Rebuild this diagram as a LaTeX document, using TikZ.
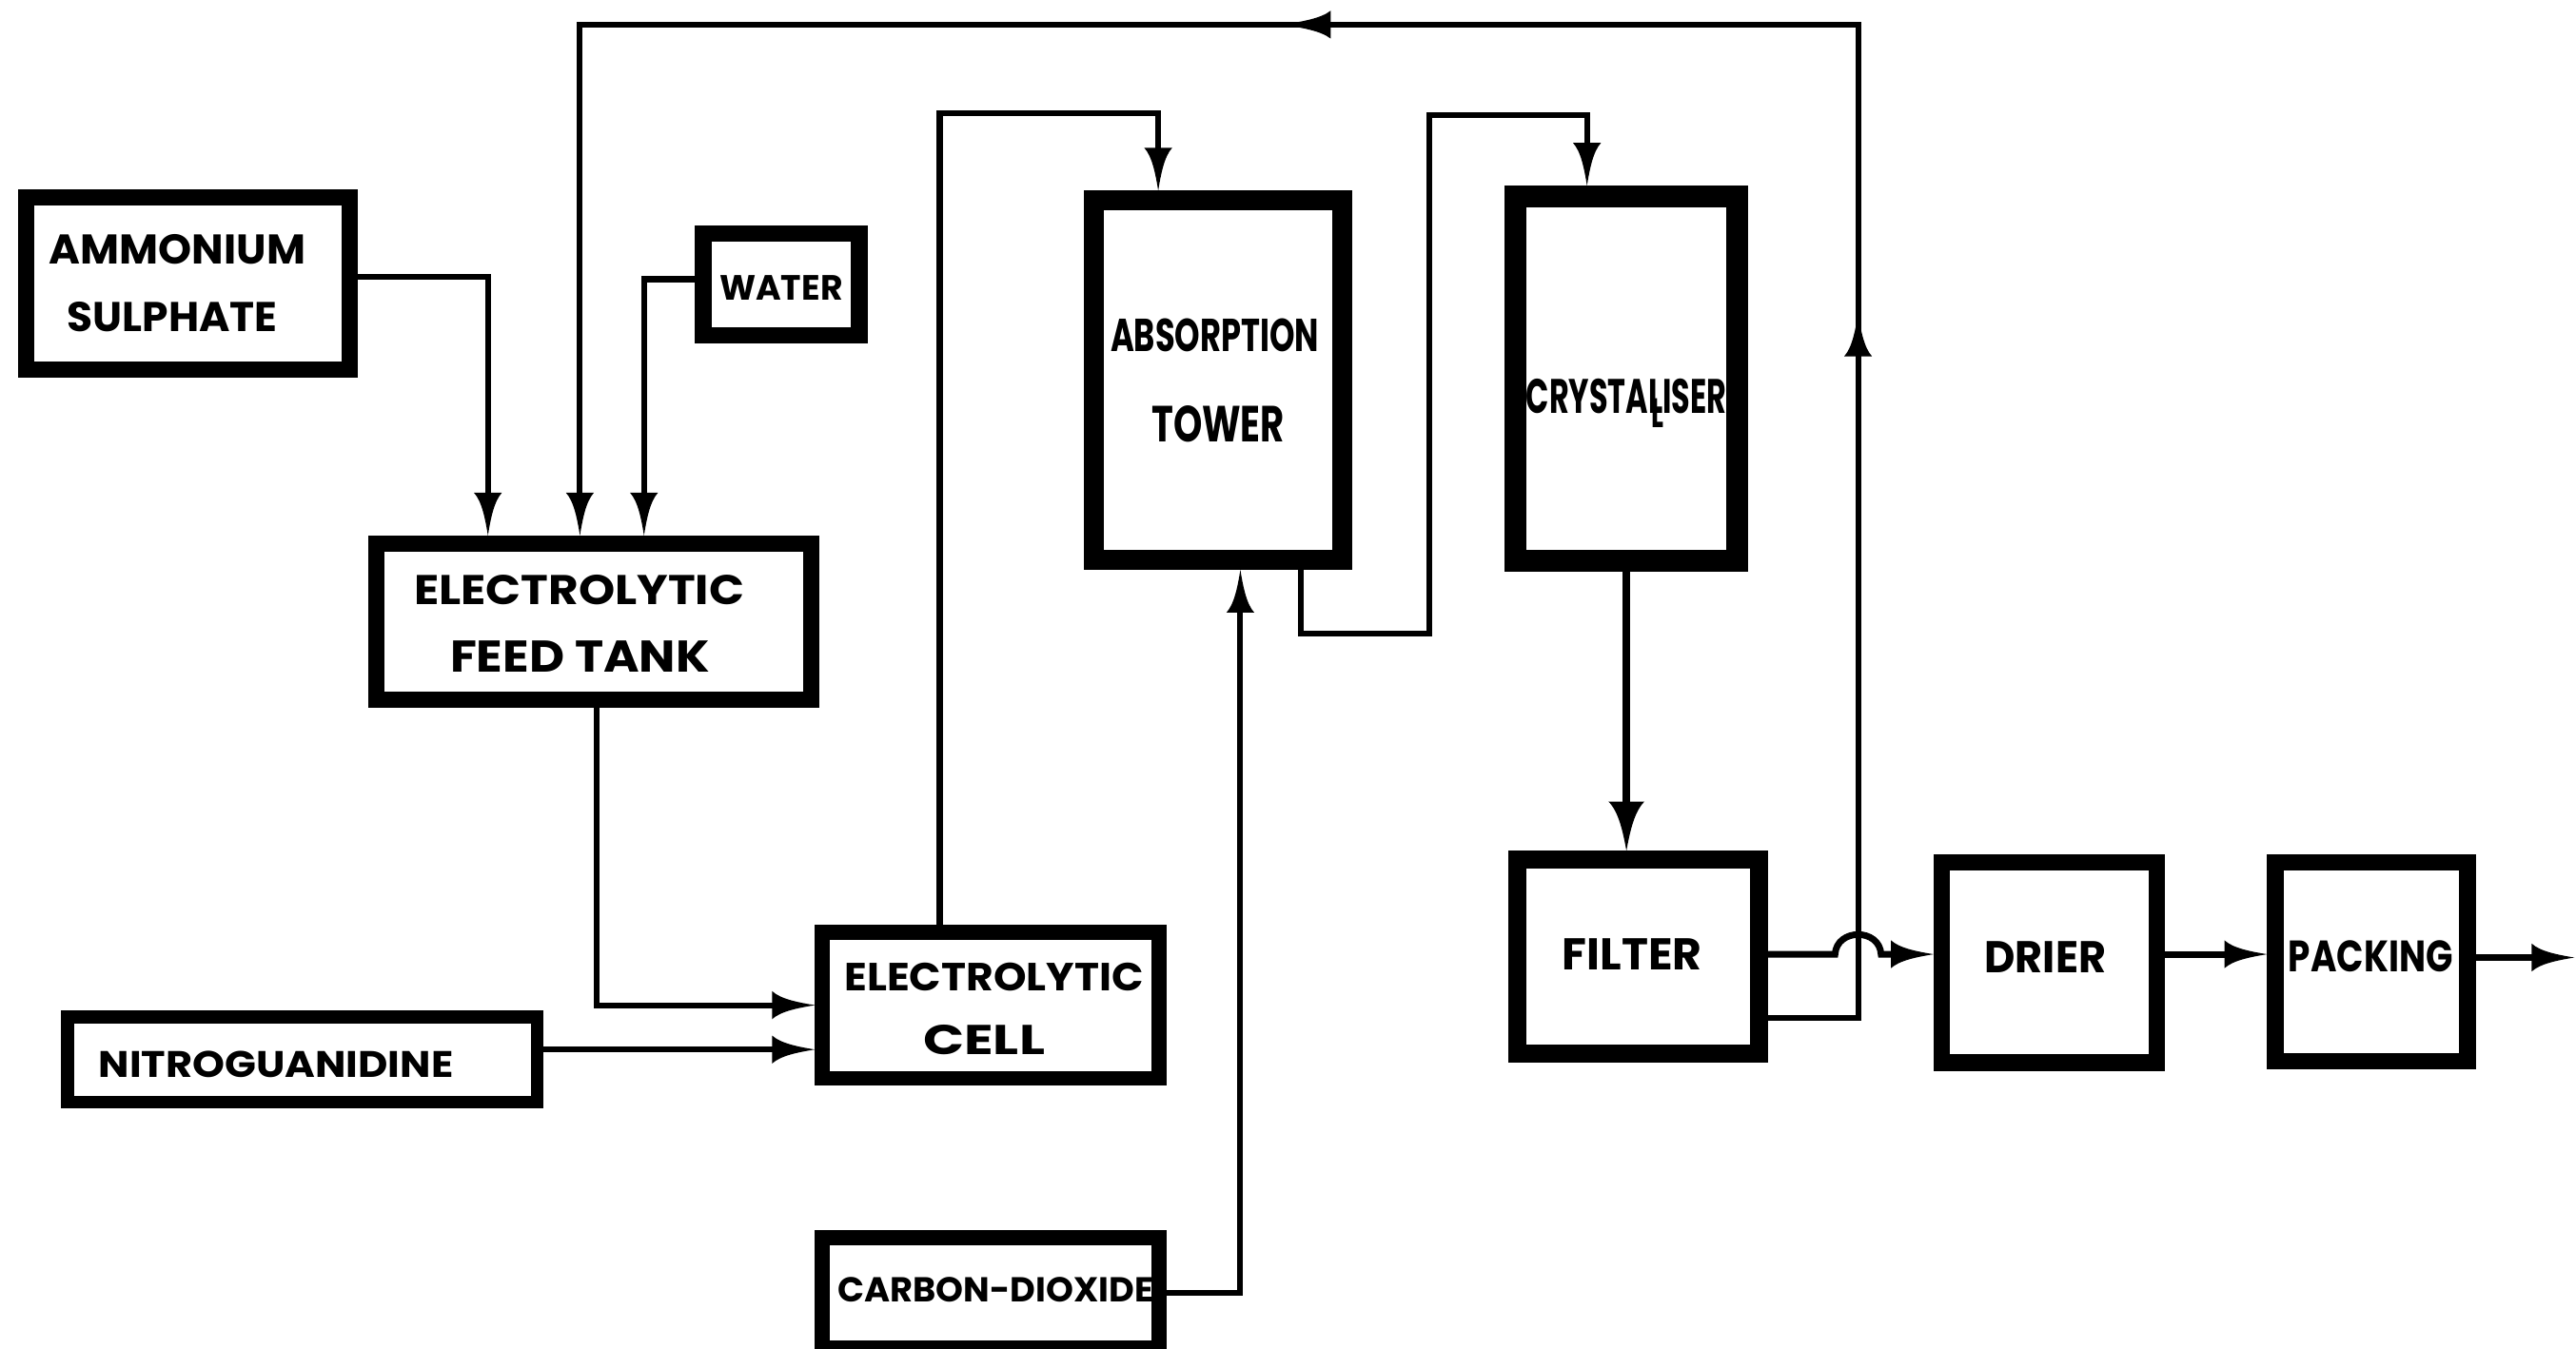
\documentclass[tikz,border=0pt]{standalone}
\usepackage{fontspec}
\setmainfont{Poppins}
\usepackage{graphicx}
\usetikzlibrary{arrows.meta,calc}
\pgfdeclarearrow{
  name = Spike,
  parameters = {\the\pgfarrowlength,\the\pgfarrowwidth},
  setup code = {
    \pgfarrowssettipend{0pt}
    \pgfarrowssetlineend{-.8\pgfarrowlength}
    \pgfarrowssetvisualbackend{-\pgfarrowlength}
    \pgfarrowssetbackend{-\pgfarrowlength}
    \pgfarrowshullpoint{0pt}{0pt}
    \pgfarrowshullpoint{-\pgfarrowlength}{.5\pgfarrowwidth}
    \pgfarrowshullpoint{-\pgfarrowlength}{-.5\pgfarrowwidth}
    \pgfarrowssavethe\pgfarrowlength
    \pgfarrowssavethe\pgfarrowwidth
  },
  drawing code = {
    \pgfpathmoveto{\pgfqpoint{0pt}{0pt}}
    \pgfpathcurveto{\pgfqpoint{-.4\pgfarrowlength}{.1\pgfarrowwidth}}{\pgfqpoint{-.8\pgfarrowlength}{.22\pgfarrowwidth}}{\pgfqpoint{-\pgfarrowlength}{.5\pgfarrowwidth}}
    \pgfpathlineto{\pgfqpoint{-\pgfarrowlength}{-.5\pgfarrowwidth}}
    \pgfpathcurveto{\pgfqpoint{-.8\pgfarrowlength}{-.22\pgfarrowwidth}}{\pgfqpoint{-.4\pgfarrowlength}{-.1\pgfarrowwidth}}{\pgfqpoint{0pt}{0pt}}
    \pgfpathclose
    \pgfusepathqfill
  },
  defaults = {length = 2.6mm, width = 1.7mm}
}
\newcommand\lbl[3]{\resizebox{#1mm}{#2mm}{\bfseries #3}}
\begin{document}
\begin{tikzpicture}[x=0.1mm,y=-0.1mm,
  box/.style={draw, inner sep=0pt, line width=#1},
  txt/.style={inner sep=0pt, anchor=base},
  flow/.style={line width=0.35mm, -{Spike}}]
\useasboundingbox (0,0) rectangle (1568,821);
% boxes
\node[box=1mm, minimum width=19.7mm, minimum height=10.5mm] (amm) at (114.5,172.5) {};
\node[box=1mm, minimum width=9.5mm, minimum height=6.2mm] (water) at (475.5,173) {};
\node[box=1mm, minimum width=26.5mm, minimum height=9.5mm] (feed) at (361.5,378.5) {};
\node[box=1.2mm, minimum width=15.1mm, minimum height=21.9mm] (tower) at (741.5,231.5) {};
\node[box=1.3mm, minimum width=13.5mm, minimum height=22.2mm] (cryst) at (990,230.5) {};
\node[box=.9mm, minimum width=20.5mm, minimum height=8.9mm] (cell) at (603,612) {};
\node[box=.8mm, minimum width=28.6mm, minimum height=5.2mm] (nitro) at (184,645) {};
\node[box=.9mm, minimum width=20.5mm, minimum height=6.7mm] (co2) at (603,787) {};
\node[box=1.1mm, minimum width=14.7mm, minimum height=11.8mm] (filter) at (997,582.5) {};
\node[box=1mm, minimum width=13.1mm, minimum height=12.2mm] (drier) at (1247.5,586) {};
\node[box=1mm, minimum width=11.7mm, minimum height=12.1mm] (pack) at (1443.5,585.5) {};
% labels
\node[txt] (tamm1) at (108,161) {\lbl{15.6}{1.8}{AMMONIUM}};
\node[txt] (tamm2) at (105,202) {\lbl{12.8}{1.8}{SULPHATE}};
\node[txt] (twater) at (475.5,182.5) {\lbl{7.5}{1.5}{WATER}};
\node[txt] (tfeed1) at (352.5,368) {\lbl{20.1}{1.8}{ELECTROLYTIC}};
\node[txt] (tfeed2) at (353,409.5) {\lbl{15.8}{1.9}{FEED TANK}};
\node[txt] (ttow1) at (739.5,214) {\lbl{12.7}{2.0}{ABSORPTION}};
\node[txt] (ttow2) at (741.5,269) {\lbl{8.1}{2.2}{TOWER}};
\node[txt] (tcry) at (990,251.5) {\lbl{12.2}{2.1}{CRYSTAL\rlap{\kern-.36em\raisebox{-.3em}{\scalebox{.85}{L}}}ISER}};
\node[txt] (tcell1) at (605,603.5) {\lbl{18.2}{1.7}{ELECTROLYTIC}};
\node[txt] (tcell2) at (599,642) {\lbl{7.4}{1.8}{CELL}};
\node[txt] (tnitro) at (168,656) {\lbl{21.6}{1.6}{NITROGUANIDINE}};
\node[txt] (tco2) at (606,792.5) {\lbl{19.2}{1.5}{CARBON-DIOXIDE}};
\node[txt] (tfil) at (993.5,590.5) {\lbl{8.5}{1.9}{FILTER}};
\node[txt] (tdri) at (1245,592.5) {\lbl{7.4}{1.9}{DRIER}};
\node[txt] (tpack) at (1443,591.5) {\lbl{10.0}{1.9}{PACKING}};
% connectors
\draw[flow] ([yshift=.4mm]amm.east) -| ([xshift=-6.45mm]feed.north);
\draw[flow] ([yshift=.3mm]water.west) -| ([xshift=3.05mm]feed.north);
\coordinate (rcorner) at (1131,15);
\coordinate (rup) at (1131,191);
\coordinate (rtop) at (780,15);
\draw[flow] ([yshift=-3.75mm]filter.east) -| (rcorner) -| ([xshift=-.85mm]feed.north);
\draw[flow] ([yshift=-3mm]rup) -- (rup);
\draw[flow, -{Spike[length=3mm]}] ([xshift=3.2mm]rtop) -- (rtop);
\draw[flow] ([xshift=.15mm]feed.south) |- (cell.west);
\draw[flow] ([yshift=.6mm]nitro.east) coordinate (n1) -- (n1 -| cell.west);
\draw[flow] ([xshift=-3.1mm]cell.north) -- ++(0,-494) -| ([xshift=-3.65mm]tower.north);
\draw[flow] (co2.east) -| ([xshift=1.35mm]tower.south);
\draw[flow] ([xshift=5.05mm]tower.south) -- ++(0,39) -- ++(78,0) -- ++(0,-316) -| ([xshift=-2.4mm]cryst.north);
\draw[flow, line width=.5mm, -{Spike[length=3mm,width=2.2mm]}] (cryst.south) -- (cryst.south |- filter.north);
\draw[flow, line width=.4mm] ([yshift=.15mm]filter.east) -- (1117,581) .. controls (1118,565) and (1144,565) .. (1145,581) -- ([yshift=.5mm]drier.west);
\draw[flow, line width=.4mm] ([yshift=.5mm]drier.east) -- ([yshift=.5mm]drier.east -| pack.west);
\coordinate (out) at (1567,583);
\draw[flow, line width=.4mm] (pack.east |- out) -- (out);
\end{tikzpicture}
\end{document}
